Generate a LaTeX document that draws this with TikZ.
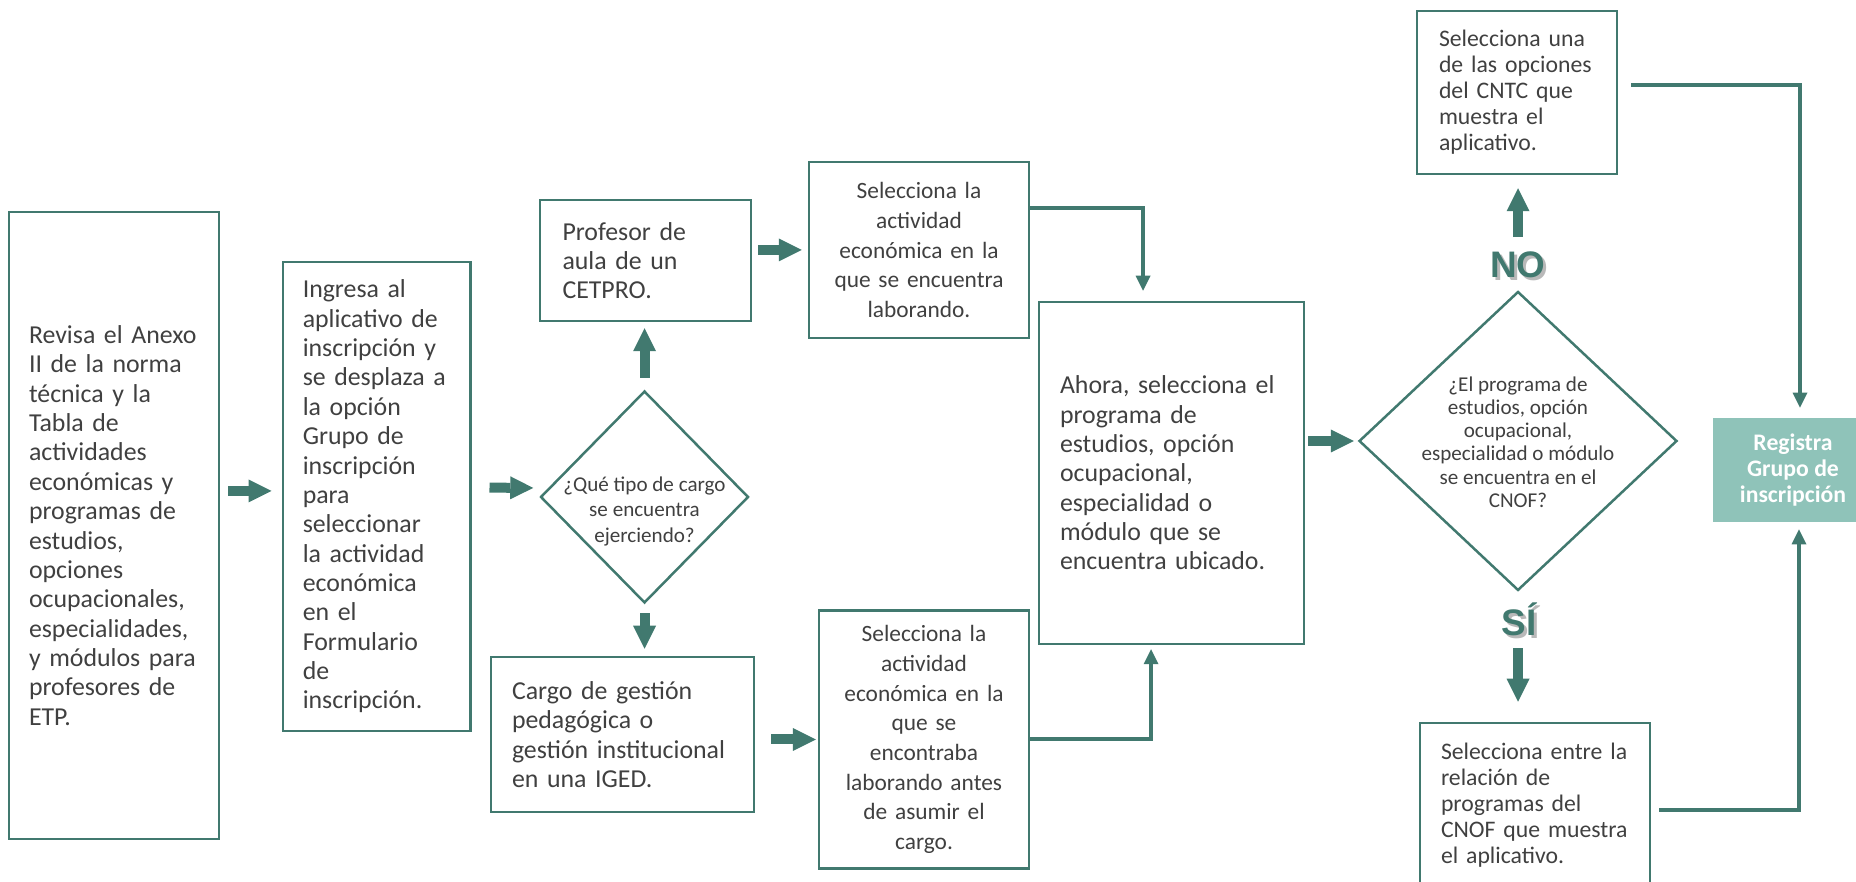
\documentclass[tikz,border=0pt]{standalone}
\usepackage{fontspec}
\setmainfont{Carlito}
\newfontfamily\labelfont{Liberation Sans}
\usetikzlibrary{arrows.meta, shapes.geometric}
\definecolor{verde}{HTML}{41796F}
\definecolor{verdeclaro}{HTML}{8FC3B9}
\definecolor{texto}{HTML}{404040}
\hyphenpenalty=10000
\exhyphenpenalty=10000
\newcommand{\txtgrande}{\fontsize{14.7}{16.7}\selectfont}
\newcommand{\txtcentro}{\fontsize{13.3}{16.9}\selectfont}
\newcommand{\txtmedio}{\fontsize{13.5}{14.8}\selectfont}
\newcommand{\sombra}[1]{\makebox[0pt][l]{\hspace{0.06cm}\raisebox{-0.06cm}{\color{gray!55}#1}}#1}
\newcommand{\rombotexto}[2]{\raisebox{#1}[0pt][0pt]{\makebox[0pt]{\begin{tabular}{@{}c@{}}#2\end{tabular}}}}
\tikzset{
  caja/.style={draw=verde, line width=0.05cm, text=texto, font=\txtgrande, inner ysep=0pt},
  rombo/.style={diamond, draw=verde, line width=0.05cm, text=texto, inner sep=0pt},
  flecha/.style={verde, line width=0.2cm, -{Triangle[width=0.46cm, length=0.46cm, line width=0pt]}},
  conector/.style={verde, line width=0.08cm, -{Triangle[width=0.3cm, length=0.3cm, line width=0pt]}},
  etiqueta/.style={verde, font=\labelfont\bfseries\fontsize{21}{24}\selectfont}
}

\begin{document}
\begin{tikzpicture}
\useasboundingbox (0,0) rectangle (37.12,17.64);

\node[caja, inner xsep=0.4cm, text width=3.4cm, minimum height=12.54cm, align=left] (revisa) at (2.28,7.13) {Revisa el Anexo\\II de la norma\\técnica y la\\Tabla de\\actividades\\económicas y\\programas de\\estudios,\\opciones\\ocupacionales,\\especialidades,\\y módulos para\\profesores de\\ETP.};
\node[caja, inner xsep=0.4cm, text width=2.95cm, minimum height=9.38cm, align=left] (ingresa) at (7.53,7.71) {Ingresa al\\aplicativo de\\inscripción y\\se desplaza a\\la opción\\Grupo de\\inscripción\\para\\seleccionar\\la actividad\\económica\\en el\\Formulario\\de\\inscripción.};
\node[rombo, minimum width=4.16cm, minimum height=4.24cm, font=\fontsize{12}{14.6}\selectfont] (tipo) at (12.89,7.70) {\rombotexto{-0.4cm}{¿Qué tipo de cargo\\se encuentra\\ejerciendo?}};
\node[caja, inner xsep=0.45cm, text width=3.32cm, minimum height=2.42cm, align=left] (profesor) at (12.91,12.43) {Profesor de\\aula de un\\CETPRO.};
\node[caja, inner xsep=0.42cm, text width=4.42cm, minimum height=3.1cm, align=left] (gestion) at (12.45,2.95) {Cargo de gestión\\pedagógica o\\gestión institucional\\en una IGED.};
\node[caja, font=\txtcentro, inner xsep=0.4cm, text width=3.6cm, minimum height=3.52cm, align=center] (actA) at (18.38,12.64) {Selecciona la\\actividad\\económica en la\\que se encuentra\\laborando.};
\node[caja, font=\txtcentro, inner xsep=0.3cm, text width=3.6cm, minimum height=5.16cm, align=center] (actB) at (18.48,2.85) {Selecciona la\\actividad\\económica en la\\que se\\encontraba\\laborando antes\\de asumir el\\cargo.};
\node[caja, inner xsep=0.42cm, text width=4.46cm, minimum height=6.84cm, align=left] (ahora) at (23.43,8.18) {Ahora, selecciona el\\programa de\\estudios, opción\\ocupacional,\\especialidad o\\módulo que se\\encuentra ubicado.};
\node[rombo, minimum width=6.36cm, minimum height=5.98cm, font=\fontsize{12}{13.2}\selectfont] (consulta) at (30.36,8.82) {\rombotexto{-0.18cm}{¿El programa de\\estudios, opción\\ocupacional,\\especialidad o módulo\\se encuentra en el\\CNOF?}};
\node[caja, font=\txtmedio, inner xsep=0.44cm, text width=3.12cm, minimum height=3.26cm, align=left] (cntc) at (30.34,15.79) {Selecciona una\\de las opciones\\del CNTC que\\muestra el\\aplicativo.};
\node[caja, font=\txtmedio, inner xsep=0.42cm, text width=3.76cm, minimum height=3.28cm, align=left] (cnof) at (30.70,1.54) {Selecciona entre la\\relación de\\programas del\\CNOF que muestra\\el aplicativo.};
\node[fill=verdeclaro, text=white, font=\txtmedio\bfseries, minimum width=3.2cm, minimum height=2.08cm, align=center] (registra) at (35.86,8.24) {Registra\\Grupo de\\inscripción};

\node[etiqueta] (no) at (30.36,12.32) {\sombra{NO}};
\node[etiqueta] (si) at (30.38,5.22) {\sombra{SÍ}};

\draw[flecha, shorten <=0.16cm, shorten >=0.2cm] ([yshift=0.11cm]revisa.east |- ingresa.west) -- ([yshift=0.11cm]ingresa.west);
\draw[flecha, shorten <=0.36cm, shorten >=0.12cm] ([yshift=0.18cm]ingresa.east) -- ([yshift=0.18cm]tipo.west);
\draw[flecha, shorten <=0.24cm, shorten >=0.12cm] (tipo.north) -- (tipo.north |- profesor.south);
\draw[flecha, shorten <=0.18cm, shorten >=0.14cm] (tipo.south) -- (tipo.south |- gestion.north);
\draw[flecha, shorten <=0.12cm, shorten >=0.12cm] (profesor.east |- actA.west) -- (actA.west);
\draw[flecha, shorten <=0.32cm, shorten >=0.04cm] (gestion.east |- actB.west) -- (actB.west);
\draw[flecha, shorten <=0.06cm, shorten >=0.08cm] (ahora.east |- consulta.west) -- (consulta.west);
\draw[flecha, shorten <=1.06cm, shorten >=0.26cm] (consulta.north) -- (consulta.north |- cntc.south);
\draw[flecha, shorten <=1.13cm, shorten >=0.4cm] (consulta.south) -- (consulta.south |- cnof.north);

\draw[conector, shorten >=0.2cm] ([yshift=0.84cm]actA.east) -| ([xshift=-0.57cm]ahora.north);
\draw[conector, shorten >=0.08cm] (actB.east) -| ([xshift=-0.41cm]ahora.south);
\draw[conector, shorten <=0.26cm, shorten >=0.2cm] ([yshift=0.14cm]cntc.east) -| ([xshift=0.14cm]registra.north);
\draw[conector, shorten <=0.16cm, shorten >=0.14cm] ([yshift=-0.1cm]cnof.east) -| ([xshift=0.12cm]registra.south);
\end{tikzpicture}
\end{document}
